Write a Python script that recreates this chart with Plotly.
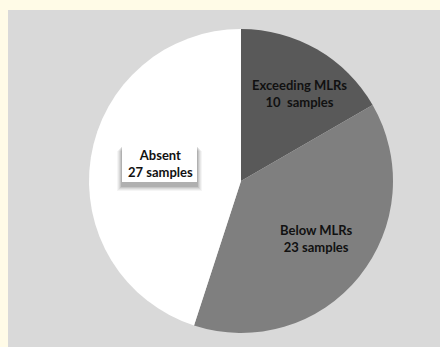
import plotly.graph_objects as go

# Sample categories and counts
categories = ["Exceeding MLRs", "Below MLRs", "Absent"]
counts = [10, 23, 27]
slice_colors = ["#595959", "#7f7f7f", "#ffffff"]
label_templates = ["Exceeding MLRs<br>{}  samples", "Below MLRs<br>{} samples", "Absent<br>{} samples"]

W, H = 440, 347


def px(x):
    return x / W


def py(y):
    return 1 - y / H


fig = go.Figure(
    go.Pie(
        labels=categories,
        values=counts,
        sort=False,
        direction="clockwise",
        rotation=0,
        marker=dict(colors=slice_colors, line=dict(width=0)),
        textinfo="none",
        hoverinfo="label+value",
        showlegend=False,
        domain=dict(x=[px(89), px(393)], y=[py(333), py(29)]),
    )
)

shapes = [
    # grey chart panel
    dict(type="rect", xref="paper", yref="paper", x0=px(8), x1=1, y0=0, y1=py(10),
         fillcolor="#d9d9d9", line=dict(width=0), layer="below"),
]

# soft drop shadow behind the "Absent" callout box
for i, op in enumerate([0.05, 0.07, 0.09, 0.12, 0.16]):
    g = 5 - i
    shapes.append(dict(type="rect", xref="paper", yref="paper",
                       x0=px(122 - g), x1=px(197 + g),
                       y0=py(186 + g), y1=py(146 + g),
                       fillcolor="#404040", opacity=op, line=dict(width=0), layer="above"))
shapes.append(dict(type="rect", xref="paper", yref="paper",
                   x0=px(122), x1=px(197), y0=py(182), y1=py(144),
                   fillcolor="#ffffff", line=dict(width=0), layer="above"))

label_pos = [(299, 94), (316, 238), (160, 163)]
annotations = []
for tmpl, n, (x, y) in zip(label_templates, counts, label_pos):
    annotations.append(dict(
        text=tmpl.format(n), x=px(x), y=py(y), xref="paper", yref="paper",
        showarrow=False, align="center", xanchor="center", yanchor="middle",
        font=dict(family="Lato", size=13, color="#111111", weight="bold"),
    ))

fig.update_layout(
    width=W, height=H,
    margin=dict(l=0, r=0, t=0, b=0),
    paper_bgcolor="#fffbe7",
    plot_bgcolor="#fffbe7",
    shapes=shapes,
    annotations=annotations,
)

fig.write_html("out.html")
